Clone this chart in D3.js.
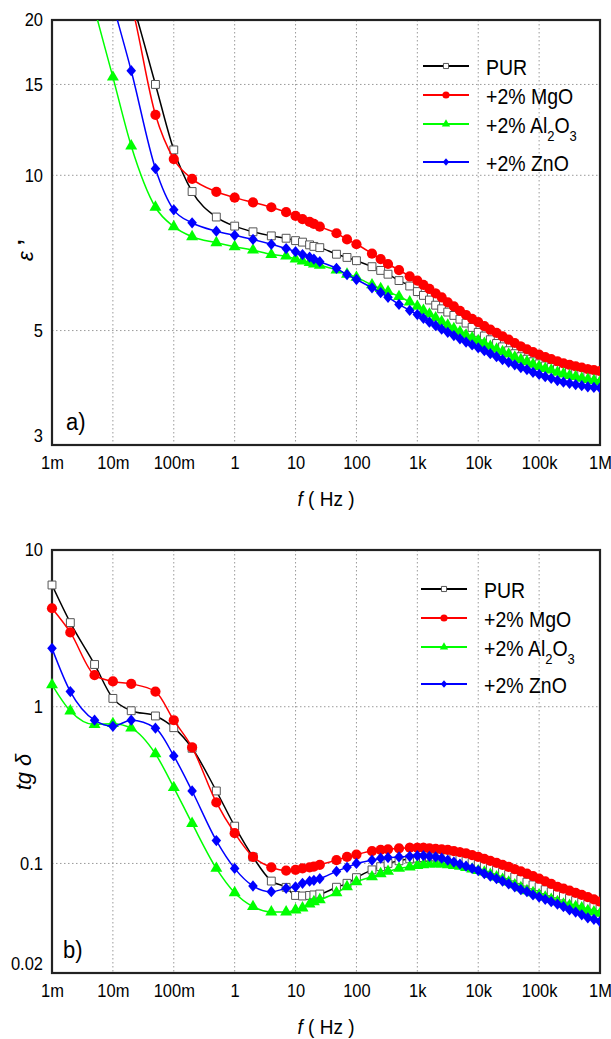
<!DOCTYPE html>
<html>
<head>
<meta charset="utf-8">
<script src="https://cdn.jsdelivr.net/npm/d3@7.9.0/dist/d3.min.js"></script>
<style>
  body { margin: 0; background: #fff; }
  svg { display: block; font-family: "Liberation Sans", Arial, sans-serif; }
</style>
</head>
<body>
<svg id="chart" width="611" height="1039"></svg>
<script>
// frequencies (Hz) shared by all series
const freq = [0.001, 0.002, 0.005, 0.01, 0.02, 0.05, 0.1, 0.2, 0.5, 1, 2, 4, 7, 10, 13, 17, 20, 25, 47, 70, 100, 180, 250, 330, 500, 750,
  1000, 1260, 1580, 2000, 2510, 3160, 3980, 5010, 6310, 7940,
  1e4, 1.26e4, 1.58e4, 2e4, 2.51e4, 3.16e4, 3.98e4, 5.01e4, 6.31e4, 7.94e4,
  1e5, 1.26e5, 1.58e5, 2e5, 2.51e5, 3.16e5, 3.98e5, 5.01e5, 6.31e5, 7.94e5, 1e6];

// a) permittivity
const epsPUR = [90, 60, 38, 28, 22, 15.0, 11.2, 9.3, 8.3, 7.97, 7.77, 7.63, 7.55, 7.47, 7.42, 7.33, 7.28, 7.24, 7.03, 6.93, 6.83, 6.65, 6.54, 6.43, 6.25, 6.1,
  5.95, 5.85, 5.73, 5.6, 5.51, 5.43, 5.35, 5.26, 5.17, 5.07,
  4.96, 4.88, 4.8, 4.72, 4.65, 4.57, 4.51, 4.45, 4.4, 4.35,
  4.31, 4.27, 4.24, 4.21, 4.18, 4.16, 4.14, 4.13, 4.11, 4.1, 4.09];
const epsMgO = [80, 55, 35, 27, 21.5, 13.1, 10.75, 9.84, 9.29, 9.05, 8.86, 8.67, 8.48, 8.34, 8.22, 8.12, 8.05, 7.95, 7.72, 7.51, 7.35, 7.05, 6.88, 6.73, 6.55, 6.37,
  6.25, 6.13, 6.02, 5.9, 5.8, 5.67, 5.57, 5.46, 5.36, 5.27,
  5.19, 5.1, 5.02, 4.95, 4.87, 4.8, 4.73, 4.66, 4.6, 4.54,
  4.49, 4.44, 4.4, 4.36, 4.32, 4.29, 4.26, 4.24, 4.21, 4.19, 4.17];
const epsAl2O3 = [45, 32, 21, 15.5, 11.4, 8.67, 7.95, 7.6, 7.4, 7.27, 7.16, 7.02, 6.97, 6.88, 6.82, 6.77, 6.73, 6.69, 6.55, 6.43, 6.34, 6.13, 6.03, 5.95, 5.82, 5.68,
  5.57, 5.47, 5.38, 5.29, 5.2, 5.12, 5.04, 4.97, 4.9, 4.84,
  4.78, 4.72, 4.66, 4.6, 4.55, 4.5, 4.44, 4.39, 4.35, 4.3,
  4.26, 4.22, 4.19, 4.15, 4.12, 4.09, 4.07, 4.04, 4.02, 4.0, 3.98];
const epsZnO = [60, 42, 29, 21.5, 15.95, 10.3, 8.57, 8.09, 7.79, 7.65, 7.51, 7.35, 7.21, 7.11, 7.02, 6.94, 6.88, 6.8, 6.6, 6.42, 6.28, 6.05, 5.92, 5.8, 5.62, 5.47,
  5.37, 5.28, 5.19, 5.11, 5.03, 4.96, 4.89, 4.82, 4.75, 4.69,
  4.63, 4.57, 4.51, 4.45, 4.39, 4.34, 4.29, 4.24, 4.2, 4.15,
  4.11, 4.07, 4.04, 4.0, 3.97, 3.95, 3.93, 3.91, 3.89, 3.88, 3.87];

// b) loss tangent
const tgPUR = [5.98, 3.44, 1.86, 1.13, 0.943, 0.873, 0.735, 0.543, 0.29, 0.173, 0.11, 0.0772, 0.0704, 0.0625, 0.062, 0.0625, 0.063, 0.0638, 0.0705, 0.0747, 0.0812, 0.091, 0.0954, 0.1, 0.104, 0.107,
  0.108, 0.109, 0.11, 0.11, 0.11, 0.109, 0.108, 0.106, 0.104, 0.102,
  0.1, 0.097, 0.094, 0.091, 0.088, 0.085, 0.082, 0.079, 0.076, 0.073,
  0.071, 0.068, 0.066, 0.064, 0.062, 0.06, 0.058, 0.057, 0.055, 0.054, 0.053];
const tgMgO = [4.25, 2.98, 1.59, 1.45, 1.4, 1.25, 0.82, 0.55, 0.245, 0.156, 0.11, 0.0945, 0.09, 0.091, 0.093, 0.0945, 0.0955, 0.098, 0.105, 0.11, 0.114, 0.12, 0.122, 0.123, 0.125, 0.126,
  0.126, 0.126, 0.125, 0.124, 0.123, 0.122, 0.12, 0.118, 0.116, 0.113,
  0.11, 0.107, 0.104, 0.101, 0.098, 0.095, 0.092, 0.089, 0.086, 0.083,
  0.08, 0.077, 0.074, 0.071, 0.069, 0.067, 0.065, 0.063, 0.061, 0.059, 0.057];
const tgAl2O3 = [1.38, 0.94, 0.77, 0.78, 0.73, 0.5, 0.305, 0.18, 0.093, 0.065, 0.053, 0.049, 0.049, 0.0505, 0.052, 0.055, 0.057, 0.0587, 0.065, 0.071, 0.0763, 0.0822, 0.086, 0.089, 0.093, 0.095,
  0.097, 0.098, 0.099, 0.099, 0.099, 0.098, 0.097, 0.096, 0.094, 0.092,
  0.09, 0.088, 0.085, 0.082, 0.079, 0.076, 0.073, 0.07, 0.067, 0.065,
  0.063, 0.061, 0.059, 0.057, 0.055, 0.054, 0.053, 0.052, 0.05, 0.049, 0.048];
const tgZnO = [2.36, 1.25, 0.82, 0.75, 0.82, 0.73, 0.485, 0.29, 0.14, 0.093, 0.0718, 0.066, 0.0694, 0.071, 0.0747, 0.077, 0.078, 0.08, 0.089, 0.0945, 0.1, 0.105, 0.108, 0.109, 0.11, 0.111,
  0.112, 0.112, 0.111, 0.11, 0.108, 0.105, 0.102, 0.099, 0.096, 0.093,
  0.09, 0.086, 0.083, 0.08, 0.077, 0.074, 0.071, 0.068, 0.066, 0.063,
  0.061, 0.059, 0.057, 0.055, 0.053, 0.0505, 0.049, 0.047, 0.045, 0.044, 0.0425];

const seriesNames = ['PUR', '+2% MgO', '+2% Al_2O_3', '+2% ZnO'];
const xTicks = [1e-3, 1e-2, 1e-1, 1, 10, 100, 1e3, 1e4, 1e5, 1e6];
const xTickLabels = ['1m', '10m', '100m', '1', '10', '100', '1k', '10k', '100k', '1M'];
const epsTicks = [3, 5, 10, 15, 20];
const epsGrid = [5, 10, 15];
const tgTicks = [0.02, 0.1, 1, 10];
const tgGrid = [0.1, 1];

// look
const colors = ['#000000', '#ff0000', '#00ff00', '#0000ff'];
const diamond = {
  draw(ctx, size) {
    const h = Math.sqrt(size) * 0.6, w = h * 0.85;
    ctx.moveTo(0, -h); ctx.lineTo(w, 0); ctx.lineTo(0, h); ctx.lineTo(-w, 0); ctx.closePath();
  }
};
const symbols = [d3.symbolSquare, d3.symbolCircle, d3.symbolTriangle, diamond];
const markSize = [62, 82, 62, 88];
const legendSize = [26, 40, 30, 40];
const TS = 1.1; // figure text is slightly stretched vertically

const svg = d3.select('#chart');
const left = 52, W = 548;
const x = d3.scaleLog().domain([1e-3, 1e6]).range([0, W]);

const panels = [
  { key: 'a', top: 20, height: 425, yDomain: [3, 20], yTicks: epsTicks, yGrid: epsGrid,
    series: [epsPUR, epsMgO, epsAl2O3, epsZnO],
    legend: { x1: 423, x2: 469, tx: 486, ys: [66, 95, 124, 162] },
    label: 'a)', labelPos: [66, 430], xTitleY: 506 },
  { key: 'b', top: 550, height: 423, yDomain: [0.02, 10], yTicks: tgTicks, yGrid: tgGrid,
    series: [tgPUR, tgMgO, tgAl2O3, tgZnO],
    legend: { x1: 421, x2: 467, tx: 484, ys: [589, 618, 647, 684] },
    label: 'b)', labelPos: [63, 958], xTitleY: 1034 }
];

panels.forEach(p => {
  const H = p.height;
  const y = d3.scaleLog().domain(p.yDomain).range([H, 0]);
  const g = svg.append('g').attr('transform', `translate(${left},${p.top})`);

  const defs = g.append('defs');
  defs.append('clipPath').attr('id', `clip-${p.key}`)
    .append('rect').attr('width', W).attr('height', H);
  defs.append('clipPath').attr('id', `clipm-${p.key}`)
    .append('rect').attr('x', -6).attr('width', W + 6).attr('height', H);

  // grid
  g.append('g').selectAll('line').data(xTicks.slice(1, -1)).join('line')
    .attr('x1', d => x(d)).attr('x2', d => x(d)).attr('y1', 0).attr('y2', H)
    .attr('stroke', '#9a9a9a').attr('stroke-width', 1).attr('stroke-dasharray', '1.5,2.5');
  g.append('g').selectAll('line').data(p.yGrid).join('line')
    .attr('x1', 0).attr('x2', W).attr('y1', d => y(d)).attr('y2', d => y(d))
    .attr('stroke', '#9a9a9a').attr('stroke-width', 1).attr('stroke-dasharray', '1.5,2.5');

  // axes
  const ya = g.append('g').call(d3.axisLeft(y).tickValues(p.yTicks).tickFormat(d3.format('~g')).tickSize(0).tickPadding(9));
  const xa = g.append('g').attr('transform', `translate(0,${H})`)
    .call(d3.axisBottom(x).tickValues(xTicks).tickFormat((d, i) => xTickLabels[i]).tickSize(0).tickPadding(10));
  [ya, xa].forEach(a => {
    a.select('.domain').remove();
    a.selectAll('text').attr('font-size', 16.5).attr('fill', '#000')
      .attr('font-family', '"Liberation Sans", Arial, sans-serif')
      .attr('transform', `scale(1,${TS})`);
  });
  ya.selectAll('.tick').filter(d => d === p.yDomain[0]).select('text').attr('dy', '-0.2em');

  // frame
  g.append('rect').attr('width', W).attr('height', H)
    .attr('fill', 'none').attr('stroke', '#222').attr('stroke-width', 2.2);

  // series
  const line = d3.line().x(d => x(d[0])).y(d => y(d[1])).curve(d3.curveMonotoneX);
  p.series.forEach((vals, si) => {
    const pts = freq.map((f, i) => [f, vals[i]]);
    g.append('path').datum(pts).attr('d', line)
      .attr('clip-path', `url(#clip-${p.key})`)
      .attr('fill', 'none').attr('stroke', colors[si]).attr('stroke-width', 1.5);
    g.append('g').attr('clip-path', `url(#clipm-${p.key})`)
      .selectAll('path').data(pts).join('path')
      .attr('transform', d => `translate(${x(d[0])},${y(d[1])})`)
      .attr('d', d3.symbol(symbols[si], markSize[si]))
      .attr('fill', si === 0 ? '#fff' : colors[si])
      .attr('stroke', si === 0 ? '#555' : 'none').attr('stroke-width', 1);
  });

  // legend
  const lg = svg.append('g');
  seriesNames.forEach((name, si) => {
    const ly = p.legend.ys[si];
    lg.append('line').attr('x1', p.legend.x1).attr('x2', p.legend.x2).attr('y1', ly).attr('y2', ly)
      .attr('stroke', colors[si]).attr('stroke-width', 1.8);
    lg.append('path').attr('transform', `translate(${(p.legend.x1 + p.legend.x2) / 2},${ly})`)
      .attr('d', d3.symbol(symbols[si], legendSize[si]))
      .attr('fill', si === 0 ? '#fff' : colors[si])
      .attr('stroke', si === 0 ? '#555' : 'none');
    const t = lg.append('text').attr('transform', `translate(${p.legend.tx},${ly + 8.5}) scale(1,${TS})`)
      .attr('font-size', 19.5);
    let shift = 0;
    name.split(/(_\d)/).filter(s => s).forEach(part => {
      if (part[0] === '_') {
        t.append('tspan').attr('font-size', 13).attr('dy', 8 - shift).text(part.slice(1));
        shift = 8;
      } else {
        t.append('tspan').attr('dy', -shift).text(part);
        shift = 0;
      }
    });
  });

  // panel label
  svg.append('text').attr('transform', `translate(${p.labelPos[0]},${p.labelPos[1]}) scale(1,${TS})`)
    .attr('font-size', 22).text(p.label);

  // x title
  const xt = svg.append('text').attr('transform', `translate(${left + W / 2},${p.xTitleY}) scale(1,${TS})`)
    .attr('text-anchor', 'middle').attr('font-size', 19);
  xt.append('tspan').attr('font-style', 'italic').text('f');
  xt.append('tspan').text(' ( Hz )');
});

// y titles
const yt1 = svg.append('text').attr('transform', 'translate(33,250) rotate(-90)')
  .attr('text-anchor', 'middle').attr('font-size', 22);
yt1.append('tspan').attr('font-style', 'italic').text('\u03b5');
yt1.append('tspan').attr('font-weight', 'bold').text(' \u2019');

svg.append('text').attr('transform', 'translate(31,772) rotate(-90)')
  .attr('text-anchor', 'middle').attr('font-size', 22).attr('font-style', 'italic')
  .text('tg \u03b4');
</script>
</body>
</html>
